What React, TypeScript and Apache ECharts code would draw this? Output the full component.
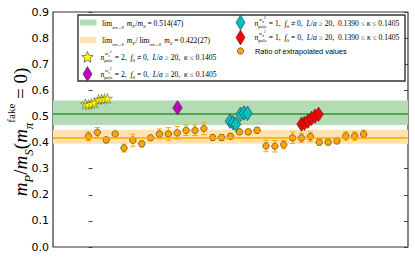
import React, { useEffect, useRef } from "react";
import * as echarts from "echarts";

// ---- data ----
const yTickLabels = ["0.0", "0.1", "0.2", "0.3", "0.4", "0.5", "0.6", "0.7", "0.8", "0.9"];

const fitGreen = { center: 0.514, err: 0.047 };
const fitOrange = { center: 0.422, err: 0.027 };

// Ratio of extrapolated values (x = running index)
const ratioX = [0, 1, 2, 3, 4, 5, 6, 7, 8, 9, 10, 11, 12, 13, 14, 15, 16, 17, 18, 19, 20, 21, 22, 23, 24, 25, 26, 27, 28, 29, 30, 31];
const ratioVal = [0.424, 0.439, 0.41, 0.433, 0.379, 0.409, 0.395, 0.418, 0.433, 0.433, 0.437, 0.447, 0.447, 0.454, 0.419, 0.419, 0.424, 0.441, 0.441, 0.447, 0.387, 0.386, 0.392, 0.418, 0.418, 0.423, 0.401, 0.401, 0.406, 0.425, 0.425, 0.432];
const ratioErr = [0.017, 0.019, 0.011, 0.006, 0.015, 0.023, 0.011, 0.006, 0.019, 0.024, 0.024, 0.02, 0.02, 0.024, 0.01, 0.01, 0.01, 0.01, 0.01, 0.011, 0.022, 0.022, 0.016, 0.022, 0.017, 0.018, 0.01, 0.01, 0.01, 0.016, 0.016, 0.015];

// n_pole = 2, f0 != 0 (stars)
const starX = [-0.34, 0.0, 0.34, 0.68, 1.13, 1.46, 1.8, 2.14];
const starVal = [0.548, 0.545, 0.549, 0.552, 0.565, 0.566, 0.568, 0.569];

// n_pole = 2, f0 = 0 (magenta)
const magX = [10.03];
const magVal = [0.533];

// n_pole = 1, f0 != 0 (cyan)
const cyanX = [15.94, 16.28, 16.62, 17.13, 17.52, 17.92];
const cyanVal = [0.482, 0.476, 0.47, 0.508, 0.513, 0.512];

// n_pole = 1, f0 = 0 (red)
const redX = [24.0, 24.34, 24.73, 25.13, 25.52, 25.92];
const redVal = [0.4705, 0.474, 0.482, 0.493, 0.501, 0.508];

const STAR_PATH =
  "path://M0,-10 L2.35,-3.24 L9.51,-3.09 L3.8,1.24 L5.88,8.09 L0,4 L-5.88,8.09 L-3.8,1.24 L-9.51,-3.09 L-2.35,-3.24 Z";

const GREEN_FILL = "#b4dcb4";
const GREEN_LINE = "#2a9a2a";
const ORANGE_FILL = "#ffe2b0";
const ORANGE = "#ffa500";

function starPoints(cx: number, cy: number, R: number, r: number) {
  const pts: number[][] = [];
  for (let k = 0; k < 10; k++) {
    const a = -Math.PI / 2 + (k * Math.PI) / 5;
    const rad = k % 2 === 0 ? R : r;
    pts.push([cx + rad * Math.cos(a), cy + rad * Math.sin(a)]);
  }
  return pts;
}

function diamondPoints(cx: number, cy: number, w: number, h: number) {
  return [
    [cx, cy - h / 2],
    [cx + w / 2, cy],
    [cx, cy + h / 2],
    [cx - w / 2, cy],
  ];
}

const SERIF = "'Liberation Serif', 'DejaVu Serif', serif";

const legRich: any = {
  r: { fontFamily: SERIF, fontSize: 7.6, lineHeight: 12, color: "#000" },
  i: { fontFamily: SERIF, fontSize: 7.6, fontStyle: "italic", lineHeight: 12, color: "#000" },
  s: { fontFamily: SERIF, fontSize: 5, fontStyle: "italic", lineHeight: 8, verticalAlign: "bottom", color: "#000" },
  t: { fontFamily: SERIF, fontSize: 4.2, fontStyle: "italic", lineHeight: 6, verticalAlign: "bottom", color: "#000" },
  sr: { fontFamily: SERIF, fontSize: 5, lineHeight: 8, verticalAlign: "bottom", color: "#000" },
};

const supRich: any = {
  a: { fontFamily: SERIF, fontSize: 4.5, fontStyle: "italic", lineHeight: 8, color: "#000" },
  b: { fontFamily: SERIF, fontSize: 3.5, fontStyle: "italic", lineHeight: 5, verticalAlign: "bottom", color: "#000" },
  c: { fontFamily: SERIF, fontSize: 3.5, lineHeight: 5, verticalAlign: "top", color: "#000" },
};

function nPoleText(x: number, y: number, subLetter: string, rest: string) {
  return [
    {
      type: "text",
      x,
      y,
      z: 101,
      style: {
        text: "{i|n}{sr|pole}" + rest,
        rich: legRich,
        fill: "#000",
        verticalAlign: "middle",
        align: "left",
      },
    },
    {
      type: "text",
      x: x + 4.6,
      y: y - 3.2,
      z: 101,
      style: {
        text: "{a|m}{b|" + subLetter + "}{c|2}",
        rich: supRich,
        fill: "#000",
        verticalAlign: "middle",
        align: "left",
      },
    },
  ];
}

export default function App() {
  const ref = useRef<HTMLDivElement>(null);

  useEffect(() => {
    if (!ref.current) return;
    const chart = echarts.init(ref.current, undefined, { renderer: "svg" });

    const legendGraphics: any[] = [
      {
        type: "rect",
        z: 100,
        shape: { x: 78, y: 15, width: 327, height: 66 },
        style: { fill: "#fff", stroke: "#333", lineWidth: 1.4 },
      },
      { type: "rect", z: 101, shape: { x: 80, y: 19.5, width: 16.5, height: 6 }, style: { fill: GREEN_FILL } },
      { type: "rect", z: 101, shape: { x: 80, y: 37, width: 16.5, height: 6 }, style: { fill: ORANGE_FILL } },
      {
        type: "polygon",
        z: 101,
        shape: { points: starPoints(87.5, 57.5, 6, 2.6) },
        style: { fill: "#ffff00", stroke: "#333", lineWidth: 0.6 },
      },
      {
        type: "polygon",
        z: 101,
        shape: { points: diamondPoints(87.5, 74, 9, 15) },
        style: { fill: "#c000c0", stroke: "#333", lineWidth: 0.6 },
      },
      {
        type: "polygon",
        z: 101,
        shape: { points: diamondPoints(240.5, 22.5, 9, 15) },
        style: { fill: "#00bfbf", stroke: "#333", lineWidth: 0.6 },
      },
      {
        type: "polygon",
        z: 101,
        shape: { points: diamondPoints(240.5, 37.5, 9, 15) },
        style: { fill: "#ff0000", stroke: "#333", lineWidth: 0.6 },
      },
      {
        type: "circle",
        z: 101,
        shape: { cx: 240.5, cy: 51, r: 3.2 },
        style: { fill: ORANGE, stroke: "#333", lineWidth: 0.6 },
      },
      {
        type: "text",
        x: 102,
        y: 23,
        z: 101,
        style: {
          text: "{r|lim}{t|m}{t|π}{t|→0} {i|m}{s|P}{r|/}{i|m}{s|S}{r| = 0.514(47)}",
          rich: legRich,
          fill: "#000",
          verticalAlign: "middle",
        },
      },
      {
        type: "text",
        x: 102,
        y: 40,
        z: 101,
        style: {
          text: "{r|lim}{t|mπ→0} {i|m}{s|P}{r|/ lim}{t|mπ→0} {i|m}{s|S}{r| = 0.422(27)}",
          rich: legRich,
          fill: "#000",
          verticalAlign: "middle",
        },
      },
      ...nPoleText(100.5, 57, "s", "{r| = 2,  }{i|f}{sr|0}{r| ≠ 0,  }{i|L}{r|/}{i|a}{r| ≥ 20,  }{i|κ}{r| ≤ 0.1405}"),
      ...nPoleText(100.5, 74, "s", "{r| = 2,  }{i|f}{sr|0}{r| = 0,  }{i|L}{r|/}{i|a}{r| ≥ 20,  }{i|κ}{r| ≤ 0.1405}"),
      ...nPoleText(254.5, 23, "π", "{r| = 1,  }{i|f}{sr|0}{r| ≠ 0,  }{i|L}{r|/}{i|a}{r| ≥ 20,  0.1390 ≤ }{i|κ}{r| ≤ 0.1405}"),
      ...nPoleText(254.5, 37, "π", "{r| = 1,  }{i|f}{sr|0}{r| = 0,  }{i|L}{r|/}{i|a}{r| ≥ 20,  0.1390 ≤ }{i|κ}{r| ≤ 0.1405}"),
      {
        type: "text",
        x: 255,
        y: 51,
        z: 101,
        style: {
          text: "Ratio of extrapolated values",
          fontFamily: "'Liberation Sans', 'DejaVu Sans', sans-serif",
          fontSize: 7.4,
          fill: "#000",
          verticalAlign: "middle",
        },
      },
      // y axis title
      {
        type: "text",
        x: 20,
        y: 132,
        rotation: Math.PI / 2,
        z: 101,
        style: {
          text: "{m|m}{sub|P}{n|/}{m|m}{sub|S}{n|(}{m|m}{sub|π}{sup|fake}{n| = 0)}",
          align: "center",
          verticalAlign: "middle",
          fill: "#000",
          rich: {
            m: { fontFamily: SERIF, fontSize: 19, fontStyle: "italic", lineHeight: 30, color: "#000" },
            n: { fontFamily: SERIF, fontSize: 19, lineHeight: 30, color: "#000" },
            sub: { fontFamily: SERIF, fontSize: 13, fontStyle: "italic", lineHeight: 19, verticalAlign: "bottom", color: "#000" },
            sup: { fontFamily: SERIF, fontSize: 11, lineHeight: 14, verticalAlign: "top", color: "#000" },
          },
        },
      },
    ];

    const option: any = {
      animation: false,
      grid: {
        left: 53,
        right: 7,
        top: 12,
        bottom: 12,
        show: true,
        borderColor: "#333",
        borderWidth: 1.2,
        backgroundColor: "transparent",
      },
      xAxis: {
        type: "value",
        min: -4,
        max: 36,
        axisLine: { show: false },
        axisTick: { show: false },
        axisLabel: { show: false },
        splitLine: { show: false },
      },
      yAxis: [
        {
          type: "value",
          min: 0,
          max: 0.9,
          interval: 0.1,
          axisLine: { show: false },
          axisTick: { show: true, inside: true, length: 4, lineStyle: { color: "#444", width: 1 } },
          axisLabel: {
            formatter: (v: number) => yTickLabels[Math.round(v * 10)],
            fontSize: 11,
            color: "#000",
            fontFamily: "'DejaVu Sans', sans-serif",
            margin: 4,
          },
          splitLine: { show: false },
        },
        {
          type: "value",
          position: "right",
          min: 0,
          max: 0.9,
          interval: 0.1,
          axisLine: { show: false },
          axisTick: { show: true, inside: true, length: 4, lineStyle: { color: "#444", width: 1 } },
          axisLabel: { show: false },
          splitLine: { show: false },
        },
      ],
      graphic: legendGraphics,
      series: [
        {
          type: "line",
          data: [],
          z: 1,
          silent: true,
          markArea: {
            silent: true,
            data: [
              [
                { yAxis: fitGreen.center - fitGreen.err, itemStyle: { color: GREEN_FILL } },
                { yAxis: fitGreen.center + fitGreen.err },
              ],
              [
                { yAxis: fitOrange.center - fitOrange.err, itemStyle: { color: ORANGE_FILL } },
                { yAxis: fitOrange.center + fitOrange.err },
              ],
            ],
          },
          markLine: {
            silent: true,
            symbol: "none",
            label: { show: false },
            data: [
              { yAxis: fitGreen.center, lineStyle: { color: GREEN_LINE, width: 1.5, type: "solid" } },
              { yAxis: fitOrange.center, lineStyle: { color: ORANGE, width: 1.5, type: "solid" } },
            ],
          },
        },
        {
          type: "custom",
          z: 3,
          silent: true,
          data: ratioX.map((x, i) => [x, ratioVal[i], ratioErr[i]]),
          renderItem: (params: any, api: any) => {
            const x = api.value(0);
            const y = api.value(1);
            const e = api.value(2);
            const top = api.coord([x, y + e]);
            const bot = api.coord([x, y - e]);
            const hw = 2.6;
            const st = { stroke: ORANGE, lineWidth: 1 };
            return {
              type: "group",
              children: [
                { type: "line", shape: { x1: top[0], y1: top[1], x2: bot[0], y2: bot[1] }, style: st },
                { type: "line", shape: { x1: top[0] - hw, y1: top[1], x2: top[0] + hw, y2: top[1] }, style: st },
                { type: "line", shape: { x1: bot[0] - hw, y1: bot[1], x2: bot[0] + hw, y2: bot[1] }, style: st },
              ],
            };
          },
        },
        {
          type: "scatter",
          z: 4,
          symbol: "circle",
          symbolSize: 6.5,
          itemStyle: { color: ORANGE, borderColor: "#333", borderWidth: 0.6, opacity: 1 },
          data: ratioX.map((x, i) => [x, ratioVal[i]]),
        },
        {
          type: "scatter",
          z: 5,
          symbol: STAR_PATH,
          symbolSize: 10,
          itemStyle: { color: "#ffff00", borderColor: "#444", borderWidth: 0.5, opacity: 1 },
          data: starX.map((x, i) => [x, starVal[i]]),
        },
        {
          type: "scatter",
          z: 5,
          symbol: "diamond",
          symbolSize: [9.5, 14.5],
          itemStyle: { color: "#c000c0", borderColor: "#333", borderWidth: 0.6, opacity: 1 },
          data: magX.map((x, i) => [x, magVal[i]]),
        },
        {
          type: "scatter",
          z: 6,
          symbol: "diamond",
          symbolSize: [9.5, 14.5],
          itemStyle: { color: "#00bfbf", borderColor: "#333", borderWidth: 0.6, opacity: 1 },
          data: cyanX.map((x, i) => [x, cyanVal[i]]),
        },
        {
          type: "scatter",
          z: 6,
          symbol: "diamond",
          symbolSize: [9.5, 14.5],
          itemStyle: { color: "#ff0000", borderColor: "#333", borderWidth: 0.6, opacity: 1 },
          data: redX.map((x, i) => [x, redVal[i]]),
        },
      ],
    };

    chart.setOption(option);
    return () => chart.dispose();
  }, []);

  return (
    <div
      ref={ref}
      style={{ position: "fixed", left: 0, top: 0, width: 415, height: 259, background: "#fff" }}
    />
  );
}
